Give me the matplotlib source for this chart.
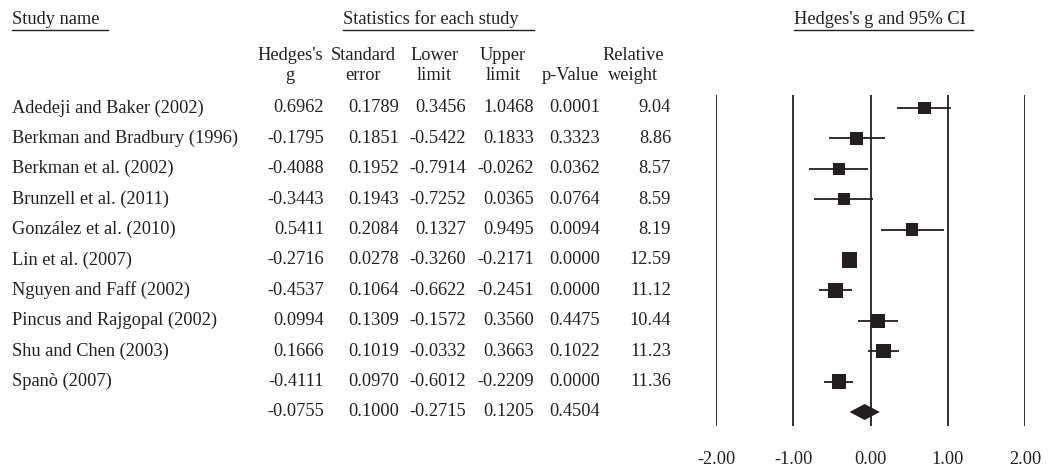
import matplotlib.pyplot as plt
from matplotlib.lines import Line2D
from matplotlib.transforms import blended_transform_factory

# study data
studies = ["Adedeji and Baker (2002)", "Berkman and Bradbury (1996)", "Berkman et al. (2002)",
           "Brunzell et al. (2011)", "González et al. (2010)", "Lin et al. (2007)",
           "Nguyen and Faff (2002)", "Pincus and Rajgopal (2002)", "Shu and Chen (2003)",
           "Spanò (2007)"]
hedges_g = [0.6962, -0.1795, -0.4088, -0.3443, 0.5411, -0.2716, -0.4537, 0.0994, 0.1666, -0.4111]
std_err = [0.1789, 0.1851, 0.1952, 0.1943, 0.2084, 0.0278, 0.1064, 0.1309, 0.1019, 0.0970]
lower = [0.3456, -0.5422, -0.7914, -0.7252, 0.1327, -0.3260, -0.6622, -0.1572, -0.0332, -0.6012]
upper = [1.0468, 0.1833, -0.0262, 0.0365, 0.9495, -0.2171, -0.2451, 0.3560, 0.3663, -0.2209]
p_values = [0.0001, 0.3323, 0.0362, 0.0764, 0.0094, 0.0000, 0.0000, 0.4475, 0.1022, 0.0000]
rel_weight = [9.04, 8.86, 8.57, 8.59, 8.19, 12.59, 11.12, 10.44, 11.23, 11.36]

# summary (random effects)
sum_g, sum_se, sum_lo, sum_hi, sum_p = -0.0755, 0.1000, -0.2715, 0.1205, 0.4504

xticks = [-2, -1, 0, 1, 2]
xtick_labels = ["-2.00", "-1.00", "0.00", "1.00", "2.00"]

plt.rcParams['font.family'] = ['Liberation Serif', 'DejaVu Serif']
FS = 13.2
INK = '#231f20'
W, H = 1048, 467

fig = plt.figure(figsize=(W / 100, H / 100), dpi=100)

# forest axes: -2..2 spans px 716..1025, rows from y=95 to 426
ax = fig.add_axes([716 / W, 1 - 426 / H, 309 / W, 331 / H])
row_step = 30.4
ax.set_xlim(-2, 2)
ax.set_ylim((426 - 108) / row_step, -(108 - 95) / row_step)
for s in ax.spines.values():
    s.set_visible(False)
ax.set_yticks([])
ax.set_xticks(xticks)
ax.set_xticklabels(xtick_labels)
ax.tick_params(axis='x', length=0, pad=18, labelsize=FS, colors=INK)
for x in xticks:
    ax.axvline(x, color=INK, lw=1.3, zorder=1)

rows = list(range(len(studies)))
ax.hlines(rows, lower, upper, color=INK, lw=1.3, zorder=2)
ax.scatter(hedges_g, rows, marker='s', s=[9.5 * w for w in rel_weight],
           color=INK, zorder=3, linewidths=0)

sum_row = len(studies)
h = 8 / row_step
ax.fill([sum_lo, sum_g, sum_hi, sum_g], [sum_row, sum_row - h, sum_row, sum_row + h],
        color=INK, lw=0, zorder=3)

# table text
tr = blended_transform_factory(fig.transFigure, ax.transData)
num_right = [324, 399, 466, 534, 600, 671]
for i, name in enumerate(studies):
    ax.text(12 / W, i, name, transform=tr, ha='left', va='center', fontsize=FS, color=INK)
    vals = [f"{hedges_g[i]:.4f}", f"{std_err[i]:.4f}", f"{lower[i]:.4f}",
            f"{upper[i]:.4f}", f"{p_values[i]:.4f}", f"{rel_weight[i]:.2f}"]
    for xr, v in zip(num_right, vals):
        ax.text(xr / W, i, v, transform=tr, ha='right', va='center', fontsize=FS, color=INK)
sum_vals = [f"{sum_g:.4f}", f"{sum_se:.4f}", f"{sum_lo:.4f}", f"{sum_hi:.4f}", f"{sum_p:.4f}"]
for xr, v in zip(num_right, sum_vals):
    ax.text(xr / W, sum_row, v, transform=tr, ha='right', va='center', fontsize=FS, color=INK)

# column headers
col_centers = [290, 363, 434, 503, 570, 633]
head1 = ["Hedges's", "Standard", "Lower", "Upper", "", "Relative"]
head2 = ["g", "error", "limit", "limit", "p-Value", "weight"]
for xc, a, b in zip(col_centers, head1, head2):
    fig.text(xc / W, 1 - 56 / H, a, ha='center', va='center', fontsize=FS, color=INK)
    fig.text(xc / W, 1 - 75 / H, b, ha='center', va='center', fontsize=FS, color=INK)

# top headers with underlines
top_heads = [("Study name", 12, 108), ("Statistics for each study", 343, 534),
             ("Hedges's g and 95% CI", 794, 973)]
for txt, x0, x1 in top_heads:
    fig.text(x0 / W, 1 - 19 / H, txt, ha='left', va='center', fontsize=FS, color=INK)
    fig.add_artist(Line2D([x0 / W, x1 / W], [1 - 29.5 / H, 1 - 29.5 / H],
                          transform=fig.transFigure, color=INK, lw=1.0))

fig.savefig("out.png", dpi=100)
